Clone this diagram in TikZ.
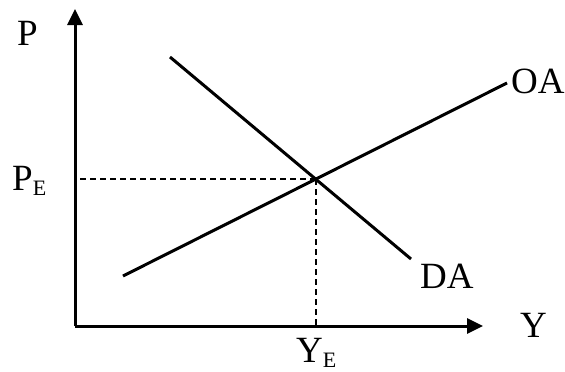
\documentclass[tikz,border=0pt]{standalone}
\usepackage{fontspec}
\setmainfont{Liberation Serif}
\usetikzlibrary{arrows.meta}
\newcommand{\bigtxt}{\fontsize{37}{40}\selectfont}
\newcommand{\subE}[1]{\raisebox{-#1}{\fontsize{22}{22}\selectfont E}}
\tikzset{
  axis/.style={line width=3pt, -{Triangle[length=16pt,width=15pt]}},
  curve/.style={line width=3pt},
  guide/.style={line width=2.2pt, dash pattern=on 6pt off 4pt},
  lbl/.style={inner sep=0pt, anchor=base west, font=\bigtxt}
}
\begin{document}
\begin{tikzpicture}[x=1pt,y=-1pt]
\fill[white] (0,0) rectangle (565,372);
\useasboundingbox (0,0) rectangle (565,372);
% axes
\coordinate (O) at (75,326);
\coordinate (ytop) at (75,9);
\coordinate (xend) at (483,326);
\draw[axis] (O) -- (ytop);
\draw[axis] (O) -- (xend);
% curves
\coordinate (oa1) at (123,276);
\coordinate (oa2) at (507,83);
\coordinate (da1) at (170,57);
\coordinate (da2) at (411,259);
\coordinate (E) at (315.7,179.2);
\draw[curve] (oa1) -- (oa2);
\draw[curve] (da1) -- (da2);
% guides
\draw[guide] (E) -- (E -| O);
\draw[guide] (E) -- (E |- O);
% labels
\node[lbl] (P) at (17,45) {P};
\node[lbl] (PE) at (12,190) {P\subE{5pt}};
\node[lbl] (Y) at (520,337) {Y};
\node[lbl] (YE) at (296,362) {Y\subE{5pt}};
\node[lbl] (DA) at (420,288) {DA};
\node[lbl] (OA) at (511,93) {OA};
\end{tikzpicture}
\end{document}
